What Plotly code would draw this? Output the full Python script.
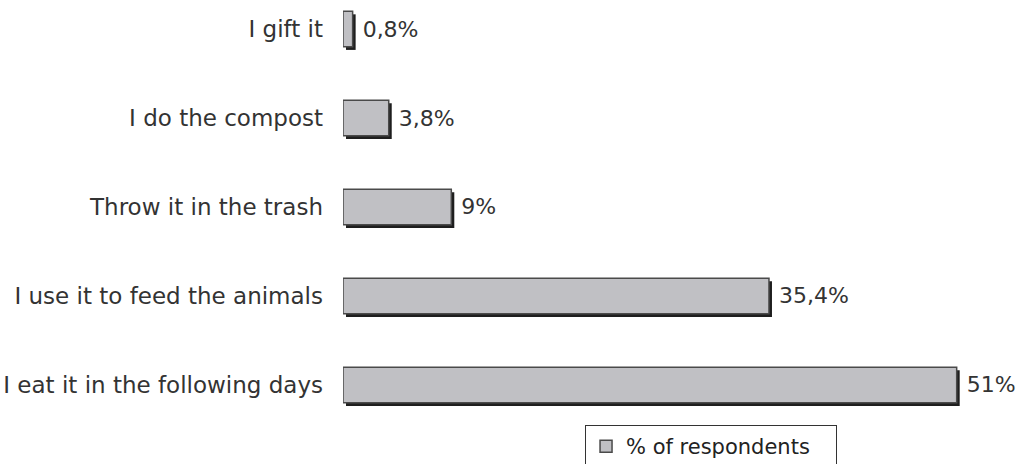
import plotly.graph_objects as go

categories = ["I eat it in the following days", "I use it to feed the animals",
              "Throw it in the trash", "I do the compost", "I gift it"]
values = [51, 35.4, 9, 3.8, 0.8]
labels = ["51%", "35,4%", "9%", "3,8%", "0,8%"]
series_name = "% of respondents"

FONT = "DejaVu Sans"
TXT = "#333333"
ypos = list(range(len(categories)))
bw = 0.4

fig = go.Figure()
# shadow
fig.add_trace(go.Bar(
    y=ypos, x=values, orientation="h", base=0.25, width=bw, offset=-bw / 2 - 0.035,
    marker=dict(color="#1e1e1e", line=dict(width=0)), showlegend=False, hoverinfo="skip"))
# main bars
fig.add_trace(go.Bar(
    y=ypos, x=values, orientation="h", width=bw, offset=-bw / 2, name=series_name,
    marker=dict(color="#c0c0c4", line=dict(color="#4a4a4a", width=1.5)),
    text=[" " + t for t in labels], textposition="outside", cliponaxis=False,
    textfont=dict(family=FONT, size=22, color=TXT)))

fig.update_layout(
    width=1025, height=464, barmode="overlay",
    margin=dict(l=343, r=25, t=0, b=34, autoexpand=False),
    plot_bgcolor="white", paper_bgcolor="white",
    font=dict(family=FONT, size=22, color=TXT),
    xaxis=dict(range=[0, 54.6], visible=False),
    yaxis=dict(range=[-0.506, 4.326], tickmode="array", tickvals=ypos, ticktext=categories,
               showgrid=False, zeroline=False, showline=False, ticks="", automargin=False,
               ticklabelstandoff=19, tickfont=dict(family=FONT, size=23, color=TXT)),
    legend=dict(xref="container", yref="container", x=0.6937, y=39 / 464,
                xanchor="center", yanchor="top", orientation="h", itemwidth=30,
                entrywidth=205, entrywidthmode="pixels",
                bordercolor="#333333", borderwidth=1, bgcolor="white",
                font=dict(family=FONT, size=21, color="#222222")),
)

fig.write_html("out.html", config={"displayModeBar": False},
               post_script="document.body.style.margin='0';document.body.style.padding='0';")
